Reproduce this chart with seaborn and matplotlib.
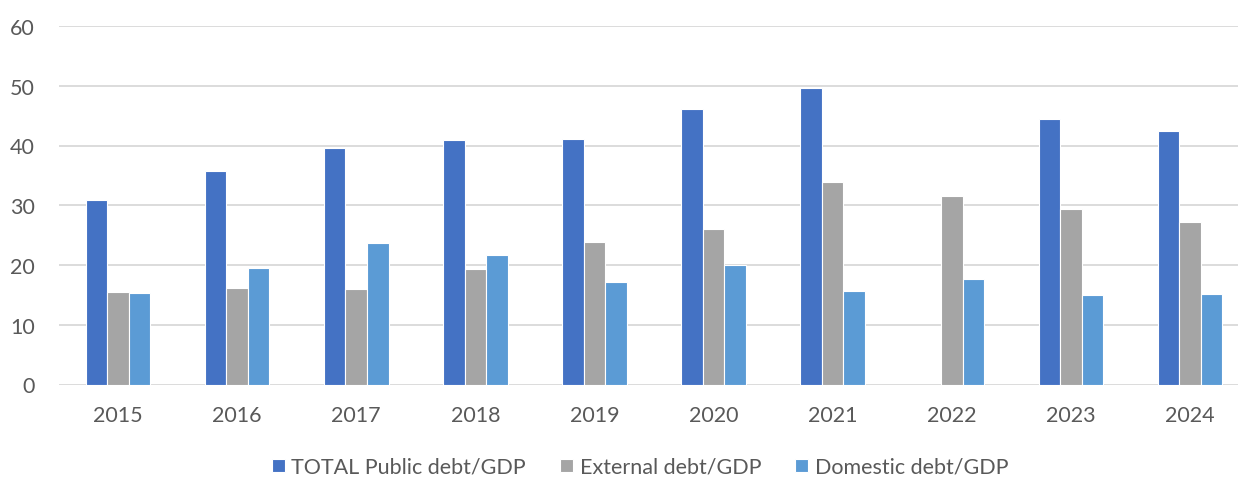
import numpy as np
import pandas as pd
import matplotlib
matplotlib.use("Agg")
import matplotlib.pyplot as plt
import seaborn as sns

years = ["2015", "2016", "2017", "2018", "2019", "2020", "2021", "2022", "2023", "2024"]
total_debt = [30.9, 35.8, 39.6, 40.9, 41.1, 46.1, 49.7, np.nan, 44.5, 42.5]
external_debt = [15.4, 16.2, 16.0, 19.3, 23.8, 26.0, 33.9, 31.5, 29.4, 27.2]
domestic_debt = [15.3, 19.5, 23.6, 21.7, 17.2, 20.0, 15.6, 17.6, 15.0, 15.2]
series_names = ["TOTAL Public debt/GDP", "External debt/GDP", "Domestic debt/GDP"]
palette = ["#4472C4", "#A5A5A5", "#5B9BD5"]

df = pd.DataFrame({
    "year": years * 3,
    "series": [series_names[0]] * 10 + [series_names[1]] * 10 + [series_names[2]] * 10,
    "value": total_debt + external_debt + domestic_debt,
}).dropna()

sns.set_theme(style="white")
plt.rcParams["font.family"] = ["Lato", "DejaVu Sans"]

fig = plt.figure(figsize=(12.38, 5.02), dpi=100)
left = 58.5 / 1238
ax = fig.add_axes([left, (502 - 385.5) / 502, 1191 / 1238, (385.5 - 27) / 502])

sns.barplot(data=df, x="year", y="value", hue="series", order=years,
            hue_order=series_names, palette=palette, width=0.543, gap=0,
            errorbar=None, saturation=1, edgecolor="white", linewidth=0.8, ax=ax)

ax.set_ylim(0, 60)
ax.set_yticks(range(0, 61, 10))
ax.set_xlim(-0.5, 9.5)
ax.yaxis.grid(True, color="#D9D9D9", linewidth=1.3)
ax.set_axisbelow(True)
for s in ax.spines.values():
    s.set_visible(False)
ax.tick_params(axis="both", length=0, colors="#595959", labelsize=15.5)
ax.tick_params(axis="y", pad=17)
ax.tick_params(axis="x", pad=15)
ax.set_xlabel("")
ax.set_ylabel("")

handles, labels = ax.get_legend_handles_labels()
ax.get_legend().remove()
fig.legend(handles, labels, loc="center", bbox_to_anchor=(640 / 1238, 1 - 468 / 502),
           ncol=3, frameon=False, fontsize=15.5, handlelength=0.6, handleheight=0.6,
           handletextpad=0.3, columnspacing=1.6, labelcolor="#595959")

fig.savefig("out.png", dpi=100)
